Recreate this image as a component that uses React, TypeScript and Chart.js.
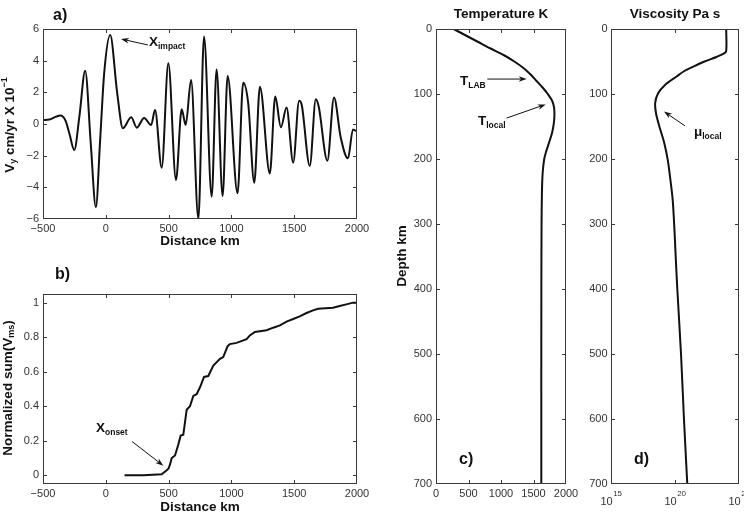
import React, { useEffect, useRef } from "react";
import { Chart, registerables } from "chart.js";

Chart.register(...registerables);

const W = 744;
const H = 513;
const FONT = "'Liberation Sans', Arial, Helvetica, sans-serif";
const INK = "#111";
const AXIS = "#3a3a3a";
const TICK_TXT = "#333";

// ---------- Panel a: vertical velocity ----------
const velocityDistanceKm = [
  -500, -450, -400, -362, -320, -290, -251, -210, -164, -120, -79, -45, -13, 35, 90,
  136, 202, 247, 305, 361, 392, 445, 498, 559, 604, 636, 679, 737, 782, 843, 882,
  930, 970, 1049, 1094, 1134, 1182, 1227, 1306, 1349, 1394, 1439, 1492, 1539, 1560,
  1624, 1672, 1695, 1764, 1817, 1870, 1928, 1968, 2000,
];
const velocityCmYr = [
  0.25, 0.28, 0.45, 0.53, 0.2, -0.6, -1.64, 0.5, 3.37, -1.2, -5.26, -1.0, 3.2, 5.62, 2.0,
  -0.27, 0.42, -0.23, 0.38, -0.06, 0.88, -2.76, 3.83, -3.54, 0.93, -0.06, 2.78, -6.0, 5.52, -4.59, 3.45,
  -4.55, 3.03, -4.38, 2.61, 1.3, -3.71, 2.36, -3.12, 1.73, -0.21, 1.05, -2.44, 1.47, 1.2,
  -2.65, 1.56, 1.1, -2.32, 1.68, -0.84, -2.17, -0.34, -0.48,
];
const distanceTicks = [-500, 0, 500, 1000, 1500, 2000];
const velocityTicks = [-6, -4, -2, 0, 2, 4, 6];

// ---------- Panel b: normalized cumulative sum ----------
const cumulativeDistanceKm = [
  149, 300, 445, 485, 500, 512, 525, 551, 578, 596, 617, 644, 670, 697, 723, 750, 782,
  816, 856, 909, 935, 970, 988, 1041, 1121, 1147, 1187, 1280, 1333, 1386, 1439, 1492,
  1544, 1598, 1650, 1690, 1809, 1862, 1915, 1968, 2000,
];
const cumulativeValues = [
  0, 0.001, 0.006, 0.03, 0.04, 0.065, 0.1, 0.115, 0.18, 0.23, 0.235, 0.38, 0.4, 0.46, 0.47, 0.51, 0.57,
  0.575, 0.636, 0.675, 0.685, 0.748, 0.76, 0.767, 0.788, 0.81, 0.83, 0.84, 0.855, 0.868, 0.89, 0.905,
  0.92, 0.94, 0.955, 0.965, 0.97, 0.98, 0.99, 1.0, 1.0,
];
const cumulativeTicks = [0, 0.2, 0.4, 0.6, 0.8, 1];

// ---------- Panel c: temperature profile ----------
const temperatureDepthKm = [
  0, 10, 20, 30, 40, 50, 60, 70, 80, 90, 100, 110, 120, 130, 140, 150, 160, 170, 180,
  190, 200, 220, 250, 300, 400, 500, 600, 700,
];
const temperatureK = [
  272, 460, 650, 840, 1040, 1205, 1345, 1455, 1548, 1640, 1720, 1785, 1815, 1822, 1818,
  1805, 1785, 1755, 1722, 1690, 1665, 1642, 1630, 1624, 1621, 1620, 1620, 1620,
];
const temperatureTicks = [0, 500, 1000, 1500, 2000];
const depthTicks = [0, 100, 200, 300, 400, 500, 600, 700];

// ---------- Panel d: viscosity profile (log10 Pa s) ----------
const viscosityDepthKm = [
  0, 34, 38, 43, 50, 58, 65, 73, 86, 99, 114, 130, 150, 176, 201, 227, 263, 314, 340,
  400, 500, 600, 700,
];
const viscosityLog10 = [
  24.0, 24.0, 23.8, 23.24, 22.3, 21.42, 20.7, 20.13, 19.22, 18.68, 18.45, 18.52, 18.78,
  19.17, 19.43, 19.61, 19.82, 19.97, 20.03, 20.18, 20.47, 20.7, 20.96,
];
const viscosityTickExponents = [15, 20, 25];

// ---------- helpers ----------
type Part = { text: string; size: number; bold?: boolean; dy?: number };
type Box = { left: number; top: number; right: number; bottom: number };

const Y_AXIS_W = 40;
const X_AXIS_H = 20;

function paddingFor(b: Box) {
  return { left: b.left - Y_AXIS_W, top: b.top, right: W - b.right, bottom: H - b.bottom - X_AXIS_H };
}

function fmt(v: number) {
  return v < 0 ? "\u2212" + String(Math.abs(v)) : String(v);
}

function fontStr(p: Part) {
  return `${p.bold === false ? "" : "bold "}${p.size}px ${FONT}`;
}

function drawRich(ctx: CanvasRenderingContext2D, parts: Part[], x: number, y: number, align: "left" | "center", angle = 0) {
  ctx.save();
  ctx.translate(x, y);
  if (angle) ctx.rotate(angle);
  ctx.textBaseline = "middle";
  ctx.textAlign = "left";
  ctx.fillStyle = INK;
  let total = 0;
  const widths = parts.map((p) => {
    ctx.font = fontStr(p);
    const w = ctx.measureText(p.text).width;
    total += w;
    return w;
  });
  let cx = align === "center" ? -total / 2 : 0;
  parts.forEach((p, i) => {
    ctx.font = fontStr(p);
    ctx.fillText(p.text, cx, p.dy || 0);
    cx += widths[i];
  });
  ctx.restore();
}

function drawArrow(ctx: CanvasRenderingContext2D, x1: number, y1: number, x2: number, y2: number) {
  const a = Math.atan2(y2 - y1, x2 - x1);
  const len = 8;
  const half = 2.8;
  const c = Math.cos(a);
  const s = Math.sin(a);
  ctx.save();
  ctx.strokeStyle = INK;
  ctx.fillStyle = INK;
  ctx.lineWidth = 1;
  ctx.beginPath();
  ctx.moveTo(x1, y1);
  ctx.lineTo(x2 - c * len * 0.7, y2 - s * len * 0.7);
  ctx.stroke();
  ctx.beginPath();
  ctx.moveTo(x2, y2);
  ctx.lineTo(x2 - len * c + half * s, y2 - len * s - half * c);
  ctx.lineTo(x2 - len * 0.7 * c, y2 - len * 0.7 * s);
  ctx.lineTo(x2 - len * c - half * s, y2 - len * s + half * c);
  ctx.closePath();
  ctx.fill();
  ctx.restore();
}

function drawFrame(chart: any, xTicks: number[], yTicks: number[]) {
  const { ctx, chartArea: a, scales } = chart;
  const L = Math.round(a.left);
  const T = Math.round(a.top);
  const R = Math.round(a.right);
  const B = Math.round(a.bottom);
  ctx.save();
  ctx.strokeStyle = AXIS;
  ctx.lineWidth = 1;
  ctx.strokeRect(L + 0.5, T + 0.5, R - L - 1, B - T - 1);
  const tl = 4;
  ctx.beginPath();
  xTicks.forEach((v) => {
    const px = Math.round(scales.x.getPixelForValue(v)) + 0.5;
    if (px <= L + 1.5 || px >= R - 1.5) return;
    ctx.moveTo(px, B);
    ctx.lineTo(px, B - tl);
    ctx.moveTo(px, T);
    ctx.lineTo(px, T + tl);
  });
  yTicks.forEach((v) => {
    const py = Math.round(scales.y.getPixelForValue(v)) + 0.5;
    if (py <= T + 1.5 || py >= B - 1.5) return;
    ctx.moveTo(L, py);
    ctx.lineTo(L + tl, py);
    ctx.moveTo(R, py);
    ctx.lineTo(R - tl, py);
  });
  ctx.stroke();
  ctx.restore();
}

function axis(opts: {
  horizontal: boolean;
  type?: string;
  min: number;
  max: number;
  ticks: number[];
  padding: number;
  showLabels?: boolean;
  reverse?: boolean;
}) {
  return {
    type: opts.type || "linear",
    min: opts.min,
    max: opts.max,
    reverse: !!opts.reverse,
    grid: { display: false, drawTicks: false },
    border: { display: false },
    ticks: {
      display: opts.showLabels !== false,
      autoSkip: false,
      maxRotation: 0,
      minRotation: 0,
      padding: opts.padding,
      color: TICK_TXT,
      font: { family: FONT, size: 11 },
      callback: (v: any) => fmt(Number(v)),
    },
    afterBuildTicks: (s: any) => {
      s.ticks = opts.ticks.map((v) => ({ value: v }));
    },
    afterFit: (s: any) => {
      if (opts.horizontal) s.height = X_AXIS_H;
      else s.width = Y_AXIS_W;
      s.paddingLeft = 0;
      s.paddingRight = 0;
      s.paddingTop = 0;
      s.paddingBottom = 0;
    },
  };
}

const BOX_A: Box = { left: 43, top: 29, right: 357, bottom: 219 };
const BOX_B: Box = { left: 43, top: 294, right: 357, bottom: 484 };
const BOX_C: Box = { left: 436, top: 29, right: 566, bottom: 484 };
const BOX_D: Box = { left: 611, top: 29, right: 739, bottom: 484 };

function baseOptions(box: Box, scales: any) {
  return {
    responsive: false,
    animation: false,
    events: [],
    layout: { padding: paddingFor(box) },
    plugins: { legend: { display: false }, tooltip: { enabled: false }, title: { display: false } },
    scales,
  };
}

function lineDataset(points: { x: number; y: number }[], extra: any = {}) {
  return {
    data: points,
    borderColor: INK,
    borderWidth: 2,
    pointRadius: 0,
    fill: false,
    ...extra,
  };
}

function makeConfigs() {
  const a = {
    type: "line",
    data: {
      datasets: [
        lineDataset(
          velocityDistanceKm.map((x, i) => ({ x, y: velocityCmYr[i] })),
          { cubicInterpolationMode: "monotone" }
        ),
      ],
    },
    options: baseOptions(BOX_A, {
      x: axis({ horizontal: true, min: -500, max: 2000, ticks: distanceTicks, padding: 3 }),
      y: axis({ horizontal: false, min: -6, max: 6, ticks: velocityTicks, padding: 4 }),
    }),
    plugins: [
      {
        id: "decorA",
        afterDraw(chart: any) {
          const { ctx, scales } = chart;
          const X = (v: number) => scales.x.getPixelForValue(v);
          const Y = (v: number) => scales.y.getPixelForValue(v);
          drawFrame(chart, distanceTicks, velocityTicks);
          drawRich(ctx, [{ text: "a)", size: 16 }], 53, 16, "left");
          drawRich(ctx, [{ text: "Distance km", size: 13.5 }], 200, 241.5, "center");
          drawRich(
            ctx,
            [
              { text: "V", size: 13.5 },
              { text: "y", size: 9, dy: 4 },
              { text: " cm/yr X 10", size: 13.5 },
              { text: "\u22121", size: 9, dy: -5 },
            ],
            10,
            125,
            "center",
            -Math.PI / 2
          );
          drawArrow(ctx, X(336), Y(4.99), X(121), Y(5.37));
          drawRich(
            ctx,
            [
              { text: "X", size: 13.5 },
              { text: "impact", size: 8.5, dy: 4.5 },
            ],
            X(344),
            Y(5.15),
            "left"
          );
        },
      },
    ],
  };

  const b = {
    type: "line",
    data: {
      datasets: [lineDataset(cumulativeDistanceKm.map((x, i) => ({ x, y: cumulativeValues[i] })))],
    },
    options: baseOptions(BOX_B, {
      x: axis({ horizontal: true, min: -500, max: 2000, ticks: distanceTicks, padding: 3 }),
      y: axis({ horizontal: false, min: -0.05, max: 1.05, ticks: cumulativeTicks, padding: 4 }),
    }),
    plugins: [
      {
        id: "decorB",
        afterDraw(chart: any) {
          const { ctx, scales } = chart;
          const X = (v: number) => scales.x.getPixelForValue(v);
          const Y = (v: number) => scales.y.getPixelForValue(v);
          drawFrame(chart, distanceTicks, cumulativeTicks);
          drawRich(ctx, [{ text: "b)", size: 16 }], 55, 275, "left");
          drawRich(ctx, [{ text: "Distance km", size: 13.5 }], 200, 507.5, "center");
          drawRich(
            ctx,
            [
              { text: "Normalized sum(V", size: 13.5 },
              { text: "ms", size: 9, dy: 4 },
              { text: ")", size: 13.5 },
            ],
            8,
            388,
            "center",
            -Math.PI / 2
          );
          drawArrow(ctx, X(209), Y(0.196), X(458), Y(0.056));
          drawRich(
            ctx,
            [
              { text: "X", size: 13.5 },
              { text: "onset", size: 8.5, dy: 4.5 },
            ],
            X(-78),
            Y(0.275),
            "left"
          );
        },
      },
    ],
  };

  const c = {
    type: "line",
    data: {
      datasets: [
        lineDataset(
          temperatureDepthKm.map((d, i) => ({ x: temperatureK[i], y: d })),
          { tension: 0.3 }
        ),
      ],
    },
    options: baseOptions(BOX_C, {
      x: axis({ horizontal: true, min: 0, max: 2000, ticks: temperatureTicks, padding: 3 }),
      y: axis({ horizontal: false, min: 0, max: 700, ticks: depthTicks, padding: 4, reverse: true }),
    }),
    plugins: [
      {
        id: "decorC",
        afterDraw(chart: any) {
          const { ctx, scales } = chart;
          const X = (v: number) => scales.x.getPixelForValue(v);
          const Y = (v: number) => scales.y.getPixelForValue(v);
          drawFrame(chart, temperatureTicks, depthTicks);
          drawRich(ctx, [{ text: "Temperature K", size: 13.5 }], 501, 14, "center");
          drawRich(ctx, [{ text: "Depth km", size: 13.5 }], 402, 256, "center", -Math.PI / 2);
          drawRich(ctx, [{ text: "c)", size: 16 }], 459, 460, "left");
          drawArrow(ctx, X(789), Y(77), X(1395), Y(77));
          drawRich(
            ctx,
            [
              { text: "T", size: 13.5 },
              { text: "LAB", size: 8.5, dy: 4.5 },
            ],
            X(369),
            Y(81),
            "left"
          );
          drawArrow(ctx, X(1087), Y(137), X(1688), Y(116));
          drawRich(
            ctx,
            [
              { text: "T", size: 13.5 },
              { text: "local", size: 8.5, dy: 4.5 },
            ],
            X(646),
            Y(142),
            "left"
          );
        },
      },
    ],
  };

  const d = {
    type: "line",
    data: {
      datasets: [
        lineDataset(
          viscosityDepthKm.map((dep, i) => ({ x: Math.pow(10, viscosityLog10[i]), y: dep })),
          { tension: 0.3 }
        ),
      ],
    },
    options: baseOptions(BOX_D, {
      x: axis({
        horizontal: true,
        type: "logarithmic",
        min: 1e15,
        max: 1e25,
        ticks: viscosityTickExponents.map((e) => Math.pow(10, e)),
        padding: 3,
        showLabels: false,
      }),
      y: axis({ horizontal: false, min: 0, max: 700, ticks: depthTicks, padding: 3.5, reverse: true }),
    }),
    plugins: [
      {
        id: "decorD",
        afterDraw(chart: any) {
          const { ctx, scales } = chart;
          const X = (v: number) => scales.x.getPixelForValue(v);
          const Y = (v: number) => scales.y.getPixelForValue(v);
          drawFrame(
            chart,
            viscosityTickExponents.map((e) => Math.pow(10, e)),
            depthTicks
          );
          drawRich(ctx, [{ text: "Viscosity Pa s", size: 13.5 }], 675, 14, "center");
          drawRich(ctx, [{ text: "d)", size: 16 }], 634, 460, "left");
          viscosityTickExponents.forEach((e) => {
            ctx.save();
            ctx.fillStyle = TICK_TXT;
            ctx.textBaseline = "middle";
            ctx.font = `11px ${FONT}`;
            const w1 = ctx.measureText("10").width;
            ctx.font = `8px ${FONT}`;
            const w2 = ctx.measureText(String(e)).width;
            const px = X(Math.pow(10, e));
            const left = px - (w1 + w2) / 2;
            ctx.font = `11px ${FONT}`;
            ctx.fillText("10", left, 501.5);
            ctx.font = `8px ${FONT}`;
            ctx.fillText(String(e), left + w1 + 0.5, 494);
            ctx.restore();
          });
          drawArrow(ctx, X(Math.pow(10, 20.78)), Y(149), X(Math.pow(10, 19.14)), Y(127));
          drawRich(
            ctx,
            [
              { text: "\u03bc", size: 13.5 },
              { text: "local", size: 8.5, dy: 4 },
            ],
            X(Math.pow(10, 21.48)),
            Y(159),
            "left"
          );
        },
      },
    ],
  };

  return [a, b, c, d];
}

export default function App() {
  const refs = [useRef<HTMLCanvasElement>(null), useRef<HTMLCanvasElement>(null), useRef<HTMLCanvasElement>(null), useRef<HTMLCanvasElement>(null)];

  useEffect(() => {
    const configs = makeConfigs();
    const charts = configs.map((cfg, i) => new Chart(refs[i].current as HTMLCanvasElement, cfg as any));
    return () => charts.forEach((c) => c.destroy());
  }, []);

  return (
    <div style={{ position: "absolute", left: 0, top: 0, width: W, height: H, background: "#fff", overflow: "hidden" }}>
      {refs.map((r, i) => (
        <canvas key={i} ref={r} width={W} height={H} style={{ position: "absolute", left: 0, top: 0 }} />
      ))}
    </div>
  );
}
